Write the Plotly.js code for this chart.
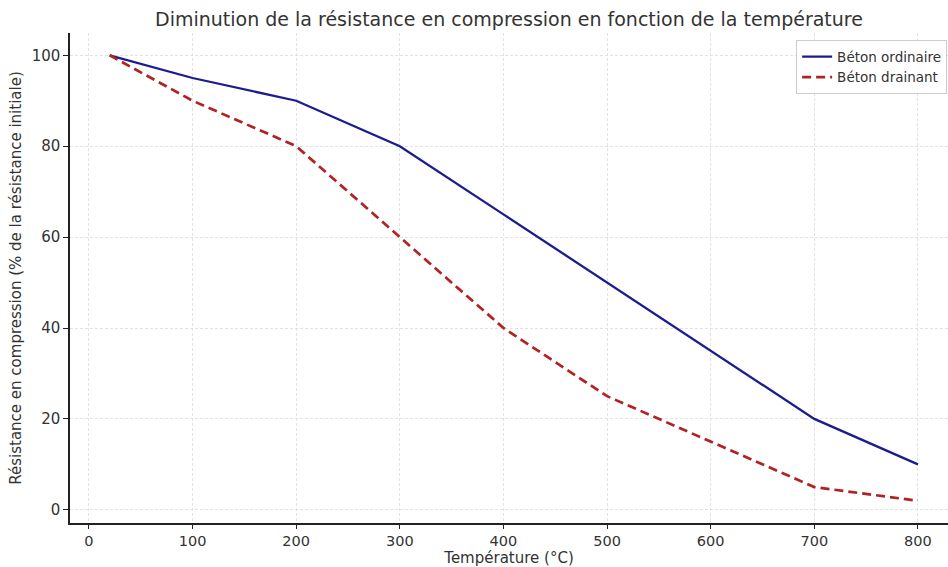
<!DOCTYPE html>
<html>
<head>
<meta charset="utf-8">
<script src="https://cdn.plot.ly/plotly-3.0.1.min.js"></script>
<style>html,body{margin:0;padding:0;background:#fff;}#chart{width:948px;height:567px;}</style>
</head>
<body>
<div id="chart"></div>
<script>
var temperatures = [20, 100, 200, 300, 400, 500, 600, 700, 800];
var betonOrdinaire = [100, 95, 90, 80, 65, 50, 35, 20, 10];
var betonDrainant = [100, 90, 80, 60, 40, 25, 15, 5, 2];
var xTicks = [0, 100, 200, 300, 400, 500, 600, 700, 800];
var yTicks = [0, 20, 40, 60, 80, 100];

var traces = [
  {x: temperatures, y: betonOrdinaire, name: 'Béton ordinaire', mode: 'lines',
   line: {color: '#1c1c8f', width: 2.3}},
  {x: temperatures, y: betonDrainant, name: 'Béton drainant', mode: 'lines',
   line: {color: '#b22222', width: 2.7, dash: '9px,5px'}}
];

var font = 'DejaVu Sans, sans-serif';
var layout = {
  width: 948, height: 567,
  margin: {l: 70, r: 0, t: 33, b: 44},
  paper_bgcolor: '#fff', plot_bgcolor: '#fff',
  font: {family: font, color: '#333', size: 15},
  title: {text: 'Diminution de la résistance en compression en fonction de la température',
          font: {size: 19, color: '#333'}, xref: 'paper', x: 0.5, xanchor: 'center',
          yref: 'container', y: 0.966, yanchor: 'middle'},
  xaxis: {
    range: [-18.3, 829], tickvals: xTicks, ticktext: xTicks.map(String),
    showgrid: true, gridcolor: '#dcdcdc', griddash: '3px,2px', gridwidth: 0.8,
    zeroline: false, showline: true, linecolor: '#222', linewidth: 1.6,
    ticks: 'outside', ticklen: 4, tickcolor: '#222', tickwidth: 1,
    tickfont: {size: 14.5, color: '#333'},
    title: {text: 'Température (°C)', font: {size: 15, color: '#333'}, standoff: 0}
  },
  yaxis: {
    range: [-2.9, 104.9], tickvals: yTicks, ticktext: yTicks.map(String),
    showgrid: true, gridcolor: '#dcdcdc', griddash: '3px,2px', gridwidth: 0.8,
    zeroline: false, showline: true, linecolor: '#222', linewidth: 1.6,
    ticks: 'outside', ticklen: 5, tickcolor: '#222', tickwidth: 1,
    tickfont: {size: 15, color: '#333'},
    title: {text: 'Résistance en compression (% de la résistance initiale)', font: {size: 15, color: '#333'}, standoff: 6}
  },
  showlegend: true,
  legend: {x: 0.999, y: 0.985, xanchor: 'right', yanchor: 'top',
           bgcolor: 'rgba(255,255,255,0.85)', bordercolor: '#ccc', borderwidth: 1,
           font: {size: 13.5, color: '#333'}, tracegroupgap: 0, itemwidth: 30}
};

Plotly.newPlot('chart', traces, layout, {displayModeBar: false, staticPlot: true});
</script>
</body>
</html>
